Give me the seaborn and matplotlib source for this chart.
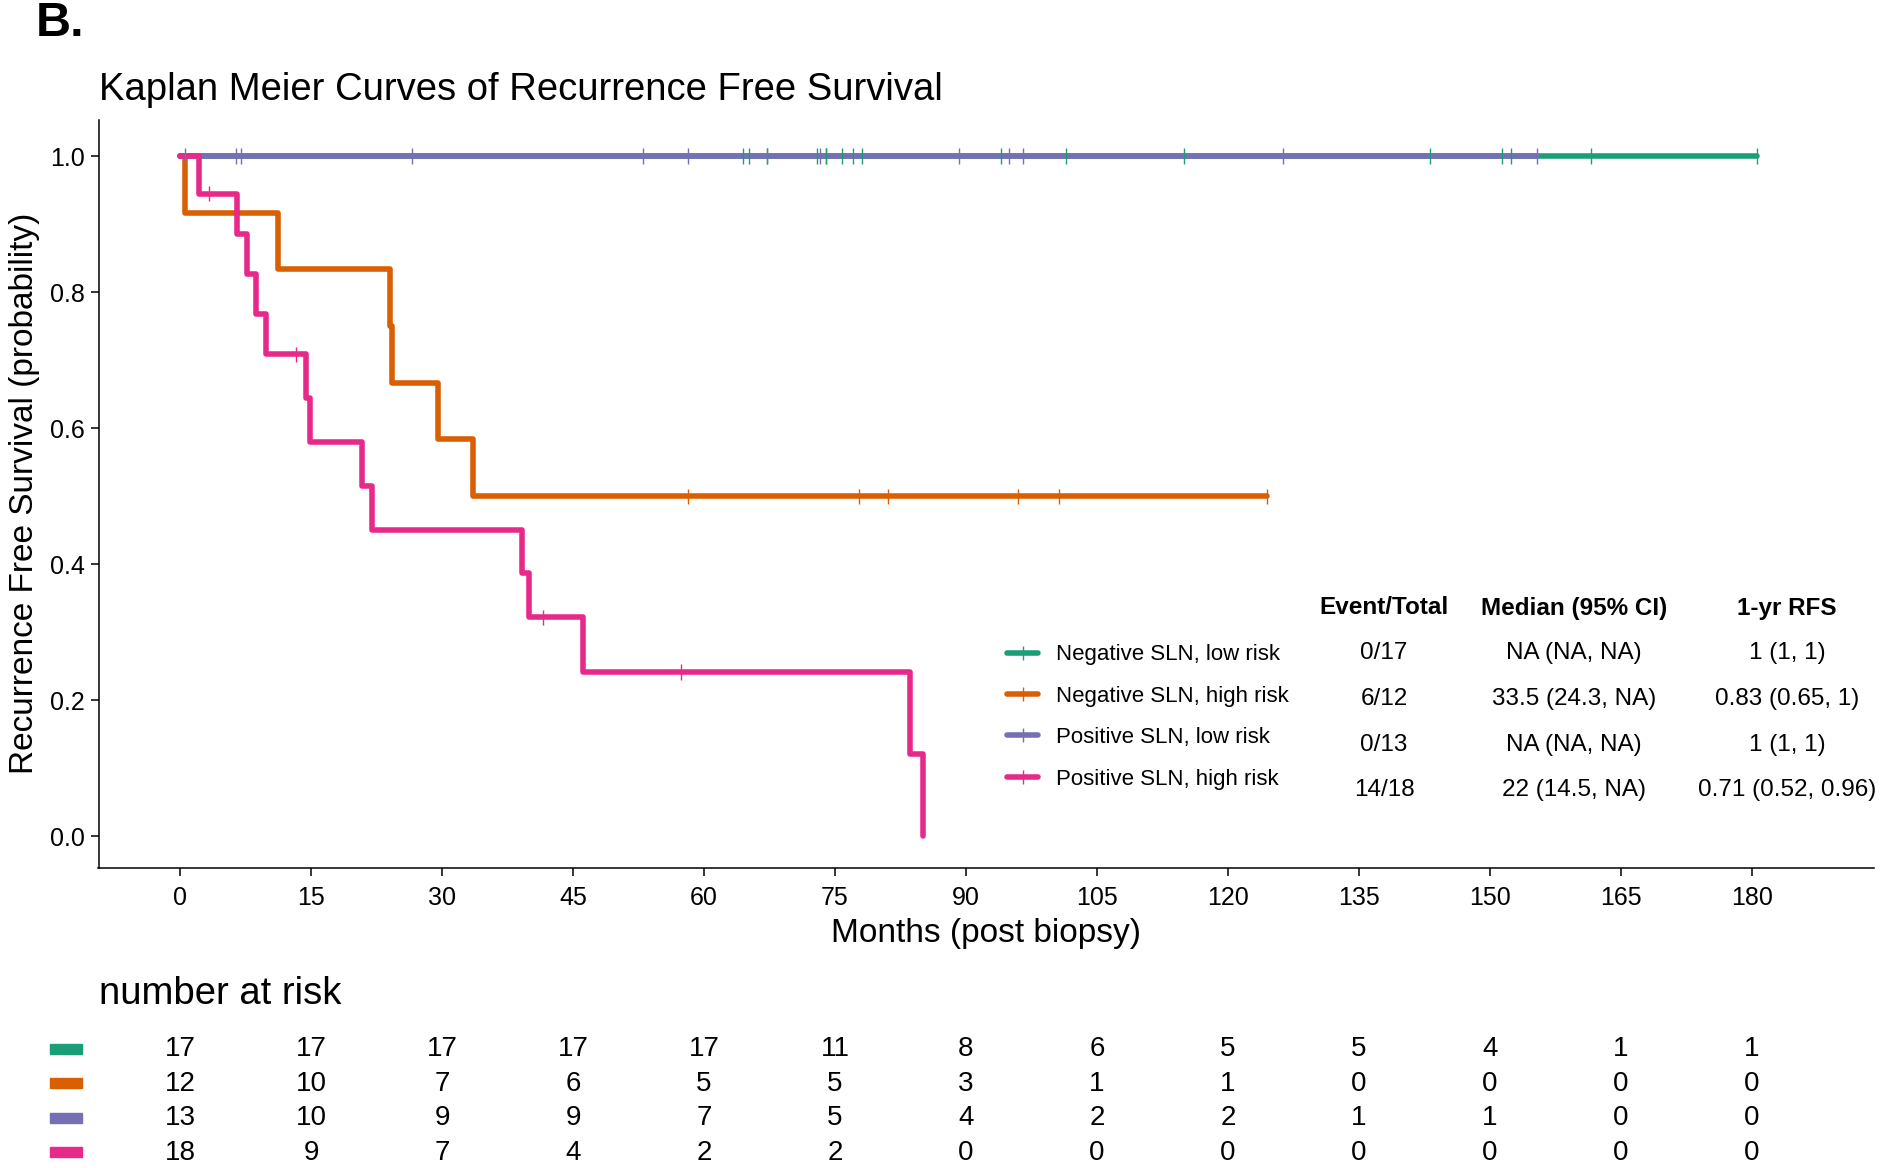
import numpy as np
import pandas as pd
import matplotlib
matplotlib.use("Agg")
import matplotlib.pyplot as plt
import seaborn as sns
from matplotlib.lines import Line2D
from matplotlib.patches import Rectangle

# ---------------- data ----------------
groups = ["Negative SLN, low risk", "Negative SLN, high risk",
          "Positive SLN, low risk", "Positive SLN, high risk"]
colors = ["#1B9E77", "#D95F02", "#7570B3", "#E7298A"]

# follow-up times (months) and event flags (1 = recurrence, 0 = censored)
neg_low_times = [64.5, 65.2, 67.2, 72.9, 74.0, 74.0, 75.8, 77.1, 78.1, 94.0,
                 101.5, 115.0, 143.1, 151.4, 152.4, 161.6, 180.6]
neg_low_events = [0, 0, 0, 0, 0, 0, 0, 0, 0, 0, 0, 0, 0, 0, 0, 0, 0]

neg_high_times = [0.5, 11.2, 24.0, 24.3, 29.5, 33.5, 58.2, 77.8, 81.1, 95.9, 100.7, 124.5]
neg_high_events = [1, 1, 1, 1, 1, 1, 0, 0, 0, 0, 0, 0]

pos_low_times = [0.55, 6.4, 7.0, 26.6, 53.0, 58.2, 67.2, 73.3, 89.2, 94.9, 96.5, 126.3, 155.4]
pos_low_events = [0, 0, 0, 0, 0, 0, 0, 0, 0, 0, 0, 0, 0]

pos_high_times = [2.2, 3.3, 6.5, 7.7, 8.7, 9.8, 13.3, 14.4, 14.9, 20.8, 22.0,
                  39.1, 40.0, 41.6, 46.1, 57.4, 83.6, 85.1]
pos_high_events = [1, 0, 1, 1, 1, 1, 0, 1, 1, 1, 1, 1, 1, 0, 1, 0, 1, 1]

event_total = ["0/17", "6/12", "0/13", "14/18"]
median_ci = ["NA (NA, NA)", "33.5 (24.3, NA)", "NA (NA, NA)", "22 (14.5, NA)"]
rfs_1yr = ["1 (1, 1)", "0.83 (0.65, 1)", "1 (1, 1)", "0.71 (0.52, 0.96)"]

x_ticks = [0, 15, 30, 45, 60, 75, 90, 105, 120, 135, 150, 165, 180]
y_ticks = [0.0, 0.2, 0.4, 0.6, 0.8, 1.0]
risk_neg_low = [17, 17, 17, 17, 17, 11, 8, 6, 5, 5, 4, 1, 1]
risk_neg_high = [12, 10, 7, 6, 5, 5, 3, 1, 1, 0, 0, 0, 0]
risk_pos_low = [13, 10, 9, 9, 7, 5, 4, 2, 2, 1, 1, 0, 0]
risk_pos_high = [18, 9, 7, 4, 2, 2, 0, 0, 0, 0, 0, 0, 0]

# ---------------- Kaplan-Meier ----------------
def km(times, events):
    t = np.asarray(times, float)
    e = np.asarray(events, int)
    xs, ys, s = [0.0], [1.0], 1.0
    surv_at = {}
    for u in np.unique(t):
        n = (t >= u).sum()
        d = e[t == u].sum()
        s *= 1 - d / n
        xs.append(u)
        ys.append(s)
        surv_at[u] = s
    cens = [(u, surv_at[u]) for u, ev in zip(t, e) if ev == 0]
    return xs, ys, cens

series = [(neg_low_times, neg_low_events), (neg_high_times, neg_high_events),
          (pos_low_times, pos_low_events), (pos_high_times, pos_high_events)]
step_rows, cens_rows = [], []
for g, (tt, ee) in zip(groups, series):
    xs, ys, cens = km(tt, ee)
    for x, y in zip(xs, ys):
        step_rows.append((g, x, y))
    for x, y in cens:
        cens_rows.append((g, x, y))
steps = pd.DataFrame(step_rows, columns=["group", "time", "surv"])
censd = pd.DataFrame(cens_rows, columns=["group", "time", "surv"])

# ---------------- figure ----------------
sns.set_theme(style="ticks")
plt.rcParams["font.family"] = ["Liberation Sans", "DejaVu Sans"]
plt.rcParams["axes.linewidth"] = 1.1
for k in ["text.color", "axes.labelcolor", "xtick.color", "ytick.color", "axes.edgecolor"]:
    plt.rcParams[k] = "black"

W, H = 1884, 1168
fig = plt.figure(figsize=(W / 100, H / 100), dpi=100)

def fx(px):
    return px / W

def fy(py):
    return 1 - py / H

ax_l, ax_r, ax_t, ax_b = 98.5, 1874, 120, 867.5
ax = fig.add_axes([fx(ax_l), fy(ax_b), fx(ax_r - ax_l), (ax_b - ax_t) / H])

sns.lineplot(data=steps, x="time", y="surv", hue="group", hue_order=groups,
             palette=colors, estimator=None, sort=False, drawstyle="steps-post",
             linewidth=4.0, legend=False, ax=ax)
sns.scatterplot(data=censd, x="time", y="surv", hue="group", hue_order=groups,
                palette=colors, marker="|", s=120, linewidth=1.0, legend=False,
                ax=ax, zorder=5)

ax.set_xlim(-9.36, 194)
ax.set_ylim(-0.046, 1.053)
ax.set_xticks(x_ticks)
ax.set_xticklabels([str(v) for v in x_ticks])
ax.set_yticks(y_ticks)
ax.set_yticklabels([f"{v:.1f}" for v in y_ticks])
ax.tick_params(axis="both", labelsize=18, length=6, width=1.1, pad=4)
ax.tick_params(axis="x", pad=7)
sns.despine(ax=ax)
ax.set_xlabel("Months (post biopsy)", fontsize=24, labelpad=6)
ax.set_ylabel("Recurrence Free Survival (probability)", fontsize=24, labelpad=7)

# Title and panel letter
fig.text(fx(99), fy(90), "Kaplan Meier Curves of Recurrence Free Survival",
         fontsize=27.5, ha="left", va="center")
fig.text(fx(36), fy(24), "B.", fontsize=35, fontweight="bold", ha="left", va="center")

# Legend with summary table
handles = [Line2D([0], [0], color=c, lw=4.0, marker="|", markersize=10,
                  markeredgewidth=1.0) for c in colors]
leg = ax.legend(handles, groups, loc="center left",
                bbox_to_anchor=(fx(1007), fy(717)), bbox_transform=fig.transFigure,
                frameon=False, fontsize=16, handlelength=1.4, handletextpad=0.8,
                labelspacing=0.92, borderpad=0, borderaxespad=0)

header_y = 608
col_x = [1384, 1574, 1787]
headers = ["Event/Total", "Median (95% CI)", "1-yr RFS"]
for x, h in zip(col_x, headers):
    fig.text(fx(x), fy(header_y), h, fontsize=17.5, fontweight="bold",
             ha="center", va="center")
row_y = [653, 699, 745, 790]
for i, y in enumerate(row_y):
    for x, col in zip(col_x, [event_total, median_ci, rfs_1yr]):
        fig.text(fx(x), fy(y), col[i], fontsize=17.5, ha="center", va="center")

# Number at risk table
fig.text(fx(99), fy(994), "number at risk", fontsize=27.5, ha="left", va="center")
rt_top = 1032
rax = fig.add_axes([fx(ax_l), 0, fx(ax_r - ax_l), (H - rt_top) / H], sharex=ax)
rax.set_ylim(3.44, -0.5)
rax.axis("off")
risk_rows = [risk_neg_low, risk_neg_high, risk_pos_low, risk_pos_high]
for r, vals in enumerate(risk_rows):
    for x, v in zip(x_ticks, vals):
        rax.text(x, r, str(v), fontsize=20, ha="center", va="center")
row_px = [1049, 1083, 1118, 1152]
for c, y in zip(colors, row_px):
    fig.patches.append(Rectangle((fx(50), fy(y + 5)), fx(32), 10 / H,
                                 transform=fig.transFigure, color=c))

fig.savefig("out.png", dpi=100)
